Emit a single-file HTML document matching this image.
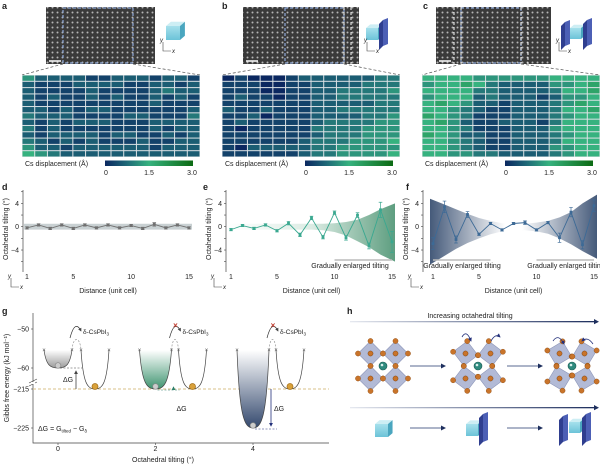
<!DOCTYPE html>
<html><head><meta charset="utf-8">
<style>
html,body{margin:0;padding:0;background:#fff;}
svg{display:block;font-family:"Liberation Sans",sans-serif;}
text{font-family:"Liberation Sans",sans-serif;}
</style></head>
<body>
<svg id="s" width="600" height="465" viewBox="0 0 600 465">
<defs>
 <pattern id="dots" width="5" height="5" patternUnits="userSpaceOnUse"><rect width="5" height="5" fill="#3a3a3a"/><circle cx="2.5" cy="2.5" r="1" fill="#b5b5b5"/></pattern>
 <linearGradient id="cbar" x1="0" x2="1" y1="0" y2="0"><stop offset="0" stop-color="#0b2760"/><stop offset="0.25" stop-color="#1f6a78"/><stop offset="0.5" stop-color="#36b27f"/><stop offset="1" stop-color="#0c6a12"/></linearGradient>
 <linearGradient id="eband" x1="0" x2="1" y1="0" y2="0"><stop offset="0" stop-color="#ffffff"/><stop offset="0.5" stop-color="#dcece4"/><stop offset="1" stop-color="#5e9e80"/></linearGradient>
 <linearGradient id="fband" x1="0" x2="1" y1="0" y2="0"><stop offset="0" stop-color="#455a7a"/><stop offset="0.45" stop-color="#ffffff"/><stop offset="0.55" stop-color="#ffffff"/><stop offset="1" stop-color="#455a7a"/></linearGradient>
 <linearGradient id="wgray" x1="0" x2="0" y1="0" y2="1"><stop offset="0" stop-color="#fff"/><stop offset="1" stop-color="#9a9a9a"/></linearGradient>
 <linearGradient id="wgreen" x1="0" x2="0" y1="0" y2="1"><stop offset="0" stop-color="#fff"/><stop offset="1" stop-color="#3f9470"/></linearGradient>
 <linearGradient id="wnavy" x1="0" x2="0" y1="0" y2="1"><stop offset="0" stop-color="#fff"/><stop offset="1" stop-color="#34496e"/></linearGradient>
 <linearGradient id="harrow" x1="0" x2="1" y1="0" y2="0"><stop offset="0" stop-color="#e6e9f0"/><stop offset="1" stop-color="#1e2f5e"/></linearGradient>
 <linearGradient id="cubeF" x1="0" x2="0" y1="0" y2="1"><stop offset="0" stop-color="#a6e0ec"/><stop offset="1" stop-color="#6cc3d8"/></linearGradient>
 <marker id="ah" markerWidth="5" markerHeight="5" refX="4" refY="2.5" orient="auto"><path d="M0,0 L5,2.5 L0,5 z" fill="#1e2f5e"/></marker>
 <marker id="ahg" markerWidth="5" markerHeight="5" refX="4" refY="2.5" orient="auto"><path d="M0,0 L5,2.5 L0,5 z" fill="#444"/></marker>
 <marker id="aht" markerWidth="5" markerHeight="5" refX="4" refY="2.5" orient="auto"><path d="M0,0 L5,2.5 L0,5 z" fill="#2e7f6a"/></marker>
 <marker id="ahn" markerWidth="5" markerHeight="5" refX="4" refY="2.5" orient="auto"><path d="M0,0 L5,2.5 L0,5 z" fill="#23307a"/></marker>
</defs>
</svg>
<script>
// ---------- data ----------
const heatA=["42222112221221","21112222112212","21111211112322","21211212112121","21111111112111","22121221111112","32221111221113","21212221112222","31211111112122","21222212211212","32121211121122","42212222221222","54322222222222"];
const heatB=["01000122222233","11100112222333","11100112233334","12110112233333","11111112222233","21121112233333","11201112222334","12111112333344","10111113333444","11111112333444","11111123334445","10222223344444","11111123344445"];
const heatC=["55554444445555","45565322224456","55553322223556","45552322212445","56542212223465","55432112223556","65431112223455","56421122213555","55431112224555","65422112223455","55432112223555","55432112224455","55443322223455"];
const cbarTicks=["0","1.5","3.0"];
const distance=[1,2,3,4,5,6,7,8,9,10,11,12,13,14,15];
const xTickLabels=[1,5,10,15];
const yTickLabels=[4,0,-4];
const dVals=[-0.2,0.3,-0.3,0.3,-0.3,0.3,-0.2,0.3,-0.2,0.2,-0.3,0.4,-0.2,0.3,-0.2];
const dErr=[0.2,0.2,0.2,0.2,0.2,0.2,0.2,0.2,0.2,0.2,0.2,0.3,0.2,0.2,0.2];
const eVals=[-0.5,0.2,-0.3,0.3,-0.7,0.6,-1.4,1.5,-1.8,2.4,-1.9,2.0,-3.3,2.9,-2.6];
const eErr=[0.2,0.2,0.2,0.2,0.2,0.3,0.3,0.3,0.3,0.3,0.4,0.4,0.5,1.3,1.8];
const eBandUp=[0.5,0.5,0.5,0.5,0.5,0.5,0.5,0.5,0.5,0.6,0.8,1.2,2,3,4];
const eBandLo=[-0.5,-0.5,-0.5,-0.5,-0.5,-0.5,-0.5,-0.5,-0.6,-0.9,-1.5,-2.5,-3.5,-4.8,-6];
const fVals=[-2.9,3.4,-2.2,2.1,-1.3,0.55,-0.55,0.55,0.7,-0.55,0.7,-1.9,2.5,-3.1,3.6];
const fErr=[1,1,0.6,0.5,0.2,0.2,0.2,0.2,0.3,0.2,0.2,0.8,0.8,0.7,1];
const fBandUp=[4.8,3.8,3,2.2,1.5,1,0.6,0.5,0.5,0.7,1,1.6,2.5,4,5.5];
const fBandLo=[-6.5,-5,-3.8,-2.8,-2,-1.3,-0.8,-0.6,-0.6,-0.8,-1.2,-2,-3,-4.2,-5.5];
const gTickLabels=["\u221250","\u221260","\u2212215","\u2212225"];
const gTickValues=[-50,-60,-215,-225];
const gXTicks=[0,2,4];

// ---------- helpers ----------
const NS='http://www.w3.org/2000/svg';
const svg=document.getElementById('s');
function mk(tag,attrs,parent){const e=document.createElementNS(NS,tag);for(const k in attrs)e.setAttribute(k,attrs[k]);(parent||svg).appendChild(e);return e;}
function tx(str,x,y,size,anchor,parent,extra){const e=mk('text',Object.assign({x:x,y:y,'font-size':size,'text-anchor':anchor||'start',fill:'#222'},extra||{}),parent);e.textContent=str;return e;}
function hex(c){return [parseInt(c.slice(1,3),16),parseInt(c.slice(3,5),16),parseInt(c.slice(5,7),16)];}
const stops=[[0,'#0b2760'],[0.75,'#1f6a78'],[1.5,'#36b27f'],[3,'#0c6a12']];
function cmap(v){for(let i=0;i<stops.length-1;i++){const a=stops[i],b=stops[i+1];if(v<=b[0]){const t=(v-a[0])/(b[0]-a[0]);const A=hex(a[1]),B=hex(b[1]);return 'rgb('+A.map((q,j)=>Math.round(q+(B[j]-q)*t)).join(',')+')';}}return stops[3][1];}
function wellPath(x0,x1,ym){const cx=(x0+x1)/2,w=(x1-x0)/2;return `M${x0},350 C${x0+0.15*w},${350+(ym-350)*0.85} ${cx-0.55*w},${ym} ${cx},${ym} C${cx+0.55*w},${ym} ${x1-0.15*w},${350+(ym-350)*0.85} ${x1},350`;}

// ---------- panels a/b/c ----------
function topPanel(letter,ox,heat,img,cube){
 const g=mk('g',{});
 
 
 const L=tx(letter,img.letterX,9,9,'start',g,{'font-weight':'bold'});
 
 
 const im=mk('rect',{x:img.x0,y:7,width:img.x1-img.x0,height:57,fill:'url(#dots)'},g);
 
 
 mk('rect',{x:img.bx0,y:8,width:img.bx1-img.bx0,height:55,fill:'none',stroke:'#8fa9d8','stroke-width':1.2,'stroke-dasharray':'3,2'},g);
 (img.white||[]).forEach(wx=>{mk('line',{x1:wx,x2:wx,y1:7,y2:64,stroke:'#fff','stroke-width':1,'stroke-dasharray':'3,2'},g);});
 mk('line',{x1:img.x0+3,x2:img.x0+15,y1:61,y2:61,stroke:'#fff','stroke-width':1.5},g);
 mk('line',{x1:img.bx0,y1:64,x2:ox+22,y2:75,stroke:'#555','stroke-width':0.7,'stroke-dasharray':'3,2'},g);
 mk('line',{x1:img.bx1,y1:64,x2:ox+200,y2:75,stroke:'#555','stroke-width':0.7,'stroke-dasharray':'3,2'},g);
 const hm=mk('g',{},g);
 
 
 mk('rect',{x:ox+22,y:75,width:178,height:82,fill:'#dde3e6'},hm);
 const cw=178/14,rh=82/13;
 heat.forEach((row,r)=>{for(let c=0;c<14;c++){
  const cell=mk('rect',{x:ox+22+c*cw+0.5,y:75+r*rh+0.5,width:cw-1,height:rh-1,fill:cmap(parseInt(row[c])*0.3)},hm);
  
  
 }});
 const cap=tx('Cs displacement (\u00c5)',ox+25,166,7,'start',g);
 
 
 const cb=mk('rect',{x:ox+105,y:160.5,width:88,height:5.5,fill:'url(#cbar)'},g);
 
 
 cbarTicks.forEach((t,i)=>{const e=tx(t,ox+106+i*43,175,7,'middle',g);});
 drawIcon(cube,img.iconX,g);
 const ax=img.x1+8;
 mk('path',{d:`M${ax},42 L${ax},51 L${ax+8},51`,fill:'none',stroke:'#444','stroke-width':0.6},g);
 tx('y',ax-3,42,6,'start',g,{'font-style':'italic'});
 tx('x',ax+9,53,6,'start',g,{'font-style':'italic'});
}
function cubeAt(x,y,s,parent){
 mk('path',{d:`M${x},${y} L${x+s*0.35},${y-s*0.3} L${x+s*1.35},${y-s*0.3} L${x+s},${y} Z`,fill:'#cdeef4'},parent);
 mk('path',{d:`M${x+s},${y} L${x+s*1.35},${y-s*0.3} L${x+s*1.35},${y+s*0.7} L${x+s},${y+s} Z`,fill:'#4aa6bf'},parent);
 mk('rect',{x:x,y:y,width:s,height:s,fill:'url(#cubeF)'},parent);
}
function plateAt(x,y,h,parent){
 mk('path',{d:`M${x},${y+4} L${x+4},${y} L${x+4},${y+h} L${x},${y+h+4} Z`,fill:'#2f3e8f'},parent);
 mk('path',{d:`M${x+4},${y} L${x+9},${y-2} L${x+9},${y+h-2} L${x+4},${y+h} Z`,fill:'#4c5fb5'},parent);
}
function drawIcon(kind,x,parent){
 const g=mk('g',{},parent);
 
 
 if(kind==='cube'){cubeAt(x,26,14,g);}
 if(kind==='cubeplate'){cubeAt(x,28,12,g);plateAt(x+13,20,26,g);}
 if(kind==='sandwich'){plateAt(x,22,24,g);cubeAt(x+9,28,11,g);plateAt(x+22,20,26,g);}
}
topPanel('a',0,heatA,{letterX:2,x0:46,x1:155,bx0:63,bx1:133,iconX:166},'cube');
topPanel('b',200,heatB,{letterX:222,x0:243,x1:359,bx0:285,bx1:344,white:[344,351],iconX:366},'cubeplate');
topPanel('c',400,heatC,{letterX:423,x0:436,x1:551,bx0:461,bx1:521,white:[454,461,521,528],iconX:561},'sandwich');

// ---------- panels d/e/f ----------
function yS(v){return 226.7-v*5.83;}
function lineChart(letter,axisX,x1,x15,vals,err,bandUp,bandLo,bandFill,color,bars,letterX){
 const xS=n=>x1+(n-1)*(x15-x1)/14;
 const g=mk('g',{});
 
 
 const L=tx(letter,letterX,190,9,'start',g,{'font-weight':'bold'});
 
 
 let d='';
 distance.forEach((n,i)=>{d+=(i?'L':'M')+(xS(n)+(i==0?-3:i==14?3:0))+','+yS(bandUp[i]);});
 for(let i=14;i>=0;i--){d+='L'+(xS(distance[i])+(i==0?-3:i==14?3:0))+','+yS(bandLo[i]);}
 const band=mk('path',{d:d+'Z',fill:bandFill},g);
 
 
 const ya=mk('line',{x1:axisX,x2:axisX,y1:190,y2:272,stroke:'#444','stroke-width':0.7},g);
 
 
 [6,4,2,0,-2,-4,-6].forEach(v=>{mk('line',{x1:axisX-2,x2:axisX,y1:yS(v),y2:yS(v),stroke:'#444','stroke-width':0.6},g);});
 yTickLabels.forEach(v=>{const t=tx(v<0?'\u2212'+(-v):String(v),axisX-4,yS(v)+2.5,7,'end',g);});
 xTickLabels.forEach(v=>{const t=tx(String(v),xS(v),279,7,'middle',g);});
 const yt=tx('Octahedral tilting (\u00b0)',0,0,7,'middle',g,{transform:`translate(${axisX-15},229) rotate(-90)`});
 
 
 const xt=tx('Distance (unit cell)',(x1+x15)/2,293,7,'middle',g);
 
 
 mk('path',{d:`M${axisX-12},278 L${axisX-12},287 L${axisX-4},287`,fill:'none',stroke:'#444','stroke-width':0.6},g);
 tx('y',axisX-15,278,6,'start',g,{'font-style':'italic'});
 tx('x',axisX-3,289,6,'start',g,{'font-style':'italic'});
 (bars||[]).forEach(b=>{
  const bl=mk('line',{x1:xS(b[0]),x2:xS(b[1]),y1:260,y2:260,stroke:'#bbb','stroke-width':1.5},g);
  
  
  const t=tx('Gradually enlarged tilting',b[2],268,7,'middle',g);
  
  
 });
 const pts=distance.map((n,i)=>xS(n)+','+yS(vals[i])).join(' ');
 const pl=mk('polyline',{points:pts,fill:'none',stroke:color,'stroke-width':0.9},g);
 
 
 distance.forEach((n,i)=>{
  const x=xS(n),yt1=yS(vals[i]+err[i]),yb=yS(vals[i]-err[i]);
  const eb=mk('path',{d:`M${x},${yt1}L${x},${yb}M${x-1.8},${yt1}L${x+1.8},${yt1}M${x-1.8},${yb}L${x+1.8},${yb}`,stroke:color,'stroke-width':0.7,fill:'none'},g);
  
  
  const p=mk('rect',{x:x-1.4,y:yS(vals[i])-1.4,width:2.8,height:2.8,fill:color},g);
  
  
 });
}
lineChart('d',23,27,189,dVals,dErr,dVals.map(()=>0.5),dVals.map(()=>-0.5),'#c9d1d3','#707070',null,2);
lineChart('e',226,231,392,eVals,eErr,eBandUp,eBandLo,'url(#eband)','#3aa890',[[10,15,350]],203);
lineChart('f',423,433,594,fVals,fErr,fBandUp,fBandLo,'url(#fband)','#3d6a96',[[1,6,462],[10,15,566]],406);

// ---------- panel g ----------
(function(){
 const g=mk('g',{});
 
 
 const L=tx('g',2,314,9,'start',g,{'font-weight':'bold'});
 
 
 const gy={'-50':329,'-60':368,'-215':389,'-225':428};
 const gx=v=>58+v*48.75;
 mk('path',{d:'M33,313 L33,443 L329,443',fill:'none',stroke:'#444','stroke-width':0.7},g);
 mk('path',{d:'M29,383 L37,379 M29,386 L37,382',stroke:'#444','stroke-width':0.6},g);
 mk('rect',{x:31,y:382,width:4,height:2,fill:'#fff'},g);
 gTickValues.forEach((v,i)=>{mk('line',{x1:31,x2:33,y1:gy[v],y2:gy[v],stroke:'#444','stroke-width':0.6},g);const t=tx(gTickLabels[i],29,gy[v]+2.5,7,'end',g);});
 gXTicks.forEach(v=>{mk('line',{x1:gx(v),x2:gx(v),y1:443,y2:445,stroke:'#444','stroke-width':0.6},g);const t=tx(String(v),gx(v),451,7,'middle',g);});
 const xt=tx('Octahedral tilting (\u00b0)',163,462,7,'middle',g);
 
 
 const yt=tx('Gibbs free energy (kJ mol\u207b\u00b9)',0,0,7,'middle',g,{transform:'translate(9,378) rotate(-90)'});
 
 
 const ref=mk('line',{x1:33,x2:329,y1:389,y2:389,stroke:'#d9c08a','stroke-width':1,'stroke-dasharray':'3,2'},g);
 
 
 const minima=[-60,-215,-225];
 const fills=['url(#wgray)','url(#wgreen)','url(#wnavy)'];
 const arrowCols=['#444','#2e7f6a','#23307a'];
 const marks=['ahg','aht','ahn'];
 gXTicks.forEach((v,i)=>{
  const cx=gx(v), ym=gy[minima[i]], w=i==0?14:16;
  const well=mk('path',{d:wellPath(cx-w,cx+w,ym)+' Z',fill:fills[i],stroke:'none'},g);
  
  
  mk('path',{d:wellPath(cx-w,cx+w,ym),fill:'none',stroke:'#444','stroke-width':0.7},g);
  const rx=cx+37;
  const rw=mk('path',{d:wellPath(rx-14,rx+14,389),fill:'none',stroke:'#444','stroke-width':0.7},g);
  
  
  mk('path',{d:`M${cx+w},350 C${cx+w+1},336 ${rx-15},336 ${rx-14},350`,fill:'none',stroke:'#999','stroke-width':0.7,'stroke-dasharray':'2,1.5'},g);
  [cx-w,cx+w,rx-14,rx+14].forEach(px=>{tx('\u00d7',px,352,6,'middle',g,{fill:'#555'});});
  const b1=mk('circle',{cx:cx,cy:ym-2.5,r:2.8,fill:'#ccc',stroke:'#888','stroke-width':0.6},g);
  
  
  const b2=mk('circle',{cx:rx,cy:386.5,r:3,fill:'#d9a13a',stroke:'#a8741e','stroke-width':0.8},g);
  
  
  mk('path',{d:`M${cx+w-2},338 Q${cx+w+3},319 ${cx+w+9},331`,fill:'none',stroke:'#333','stroke-width':0.7,'marker-end':'url(#ahg)'},g);
  const lab=tx('\u03b4-CsPbI',cx+w+11,334,6.5,'start',g);
  const sub=mk('tspan',{'font-size':4.5,dy:1.5},lab);sub.textContent='3';
  
  
  if(i>0){tx('\u00d7',cx+w+4,328,8,'middle',g,{fill:'#c0392b','font-weight':'bold'});}
  const ax=i==0?76:cx+18;
  mk('line',{x1:cx+2,x2:ax+6,y1:i==0?ym:ym+1,y2:i==0?ym:ym+1,stroke:arrowCols[i],'stroke-width':0.6,'stroke-dasharray':'2,1.5'},g);
  const ar=mk('line',{x1:ax,x2:ax,y1:389,y2:i==0?ym+3:ym-2,stroke:arrowCols[i],'stroke-width':0.8,'marker-end':'url(#'+marks[i]+')'},g);
  
  
  tx('\u0394G',i==0?63:ax+3,i==0?382:411,7,'start',g);
 });
 const eq=tx('\u0394G = G',38,431,7,'start',g);
 
 
 const s1=mk('tspan',{'font-size':4.5,dy:1.5},eq);s1.textContent='tilted';
 const s2=mk('tspan',{dy:-1.5},eq);s2.textContent=' \u2212 G';
 const s3=mk('tspan',{'font-size':4.5,dy:1.5},eq);s3.textContent='\u03b4';
})();

// ---------- panel h ----------
(function(){
 const g=mk('g',{});
 
 
 const L=tx('h',347,314,9,'start',g,{'font-weight':'bold'});
 
 
 const t=tx('Increasing octahedral tilting',470,318,7,'middle',g);
 
 
 mk('rect',{x:350,y:321,width:244,height:1.3,fill:'url(#harrow)'},g);
 mk('path',{d:'M594,319 L599,321.7 L594,324.3 Z',fill:'#1e2f5e'},g);
 mk('rect',{x:350,y:407,width:244,height:1.3,fill:'url(#harrow)'},g);
 mk('path',{d:'M594,405 L599,407.7 L594,410.3 Z',fill:'#1e2f5e'},g);
 function octa(cx,cy,rot,parent){
  const s=mk('g',{},parent);
  
  
  const h=12.5;
  [[-1,-1],[1,-1],[-1,1],[1,1]].forEach((o,k)=>{
   const ox=cx+o[0]*h, oy=cy+o[1]*h, r=rot*(k==0||k==3?1:-1);
   const dg=mk('g',{transform:`rotate(${r},${ox},${oy})`},s);
   mk('path',{d:`M${ox},${oy-h} L${ox+h},${oy} L${ox},${oy+h} L${ox-h},${oy} Z`,fill:'#aab3d2',stroke:'#8c95b8','stroke-width':0.6,'fill-opacity':0.9},dg);
   [[0,-h],[h,0],[0,h],[-h,0]].forEach(p=>{mk('circle',{cx:ox+p[0],cy:oy+p[1],r:2.6,fill:'#c9742a',stroke:'#8f4e16','stroke-width':0.4},dg);});
   mk('circle',{cx:ox,cy:oy,r:2.6,fill:'#c9742a',stroke:'#6e3a10','stroke-width':0.4},dg);
  });
  mk('circle',{cx:cx,cy:cy,r:4,fill:'#2f8a7e',stroke:'#1c5c54','stroke-width':0.6},s);
  mk('circle',{cx:cx-1,cy:cy-1,r:1.3,fill:'#d8f0ec'},s);
 }
 octa(383,366,0,g);
 octa(478,366,8,g);
 octa(572,366,14,g);
 [[410,445,366],[507,542,366],[410,445,428],[507,542,428]].forEach(a=>{
  const l=mk('line',{x1:a[0],x2:a[1],y1:a[2],y2:a[2],stroke:'#5a6890','stroke-width':1,'marker-end':'url(#ah)'},g);
  
  
 });
 [[462,334,471,338],[491,338,500,334],[553,338,564,341],[593,341,582,338]].forEach(a=>{
  mk('path',{d:`M${a[0]},${a[1]+3} Q${(a[0]+a[2])/2},${a[1]-5} ${a[2]},${a[3]+3}`,fill:'none',stroke:'#23307a','stroke-width':0.8,'marker-end':'url(#ahn)'},g);
 });
 const gg=mk('g',{},g);
 
 
 cubeAt(375,424,13,gg);
 cubeAt(466,424,12,gg);plateAt(479,414,28,gg);
 plateAt(559,416,26,gg);cubeAt(569,422,11,gg);plateAt(582,414,28,gg);
})();
</script>
</body></html>
